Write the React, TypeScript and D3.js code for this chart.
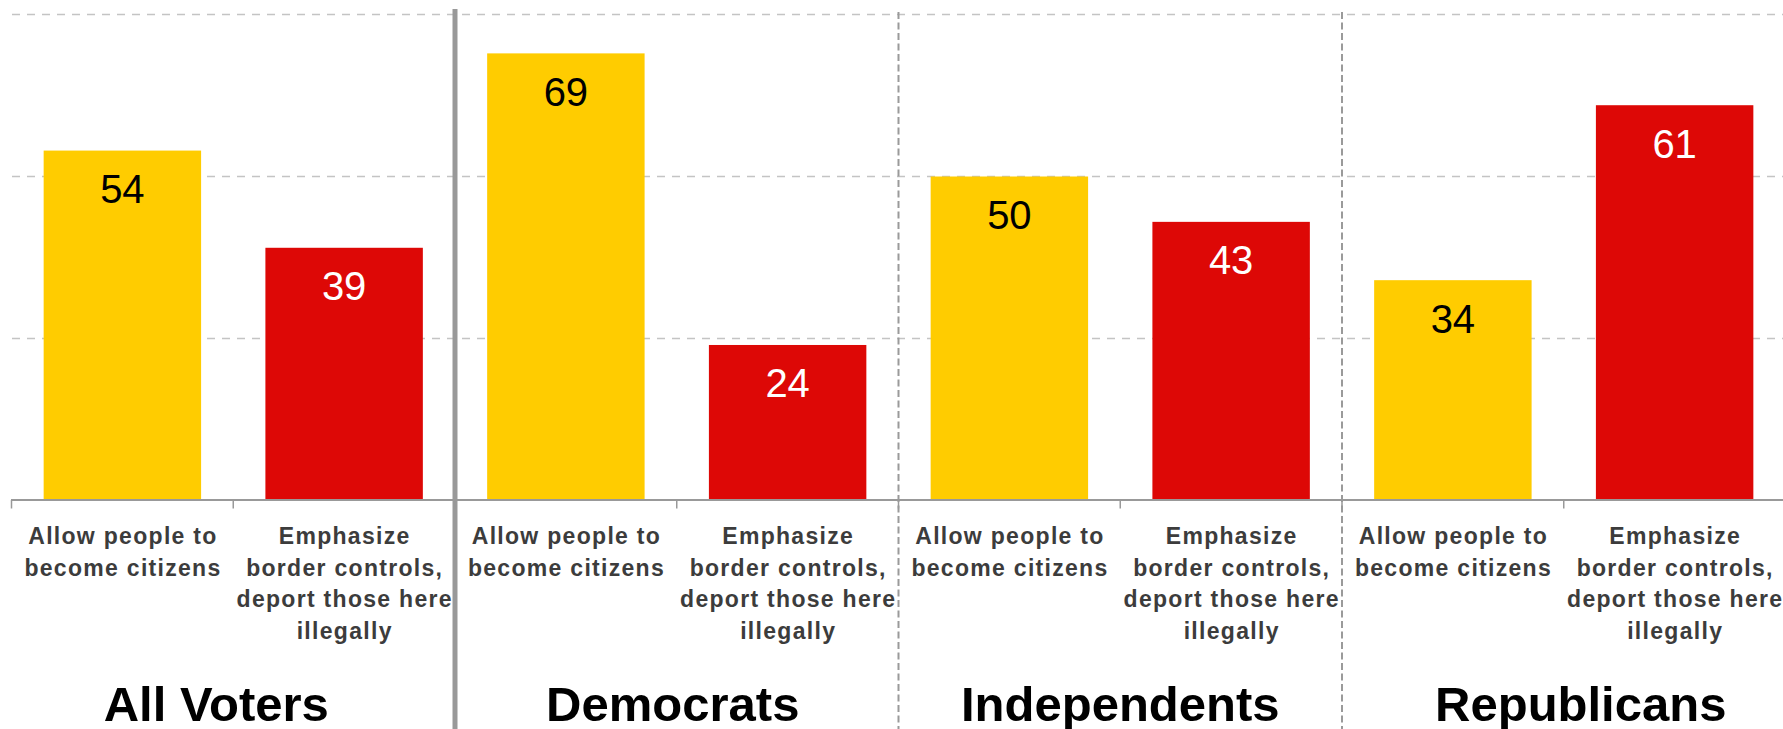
import React from "react";
import * as d3 from "d3";

const groups = ["All Voters", "Democrats", "Independents", "Republicans"];
const optionKeys = ["allow", "emphasize"];
const optionLabelLines = [
  ["Allow people to", "become citizens"],
  ["Emphasize", "border controls,", "deport those here", "illegally"],
];
const allowValues = [54, 69, 50, 34];
const emphasizeValues = [39, 24, 43, 61];
const yTicks = [25, 50, 75];

const W = 1783;
const H = 729;
const YELLOW = "#FFCC00";
const RED = "#DD0806";
const FONT = "'Liberation Sans', Arial, Helvetica, sans-serif";

// layout nudges for the group titles (as placed in the reference)
const titleShift = [-17, -4, 0, 17];

type Bar = { key: string; group: number; option: number; value: number };

const bars: Bar[] = [];
groups.forEach((g, gi) => {
  bars.push({ key: `${gi}-${optionKeys[0]}`, group: gi, option: 0, value: allowValues[gi] });
  bars.push({ key: `${gi}-${optionKeys[1]}`, group: gi, option: 1, value: emphasizeValues[gi] });
});

export default function App() {
  const x = d3
    .scaleBand<string>()
    .domain(bars.map((b) => b.key))
    .range([11.5, 11.5 + 8 * 221.75])
    .paddingInner(0.29)
    .paddingOuter(0.145);
  const y = d3.scaleLinear().domain([0, 75]).range([500.5, 14.5]);
  const step = x.step();
  const x0 = x.range()[0];
  const baseY = y(0);

  const boundaries = d3.range(0, bars.length + 1).map((i) => x0 + i * step);

  return (
    <svg
      width={W}
      height={H}
      style={{ position: "absolute", left: 0, top: 0, display: "block", background: "#fff" }}
      fontFamily={FONT}
    >
      {/* horizontal gridlines */}
      {yTicks.map((t) => (
        <line
          key={t}
          x1={12}
          x2={W}
          y1={y(t)}
          y2={y(t)}
          stroke="#C4C4C4"
          strokeWidth={1.3}
          strokeDasharray="8 7"
        />
      ))}

      {/* bars */}
      {bars.map((b) => (
        <rect
          key={b.key}
          x={x(b.key)}
          y={y(b.value)}
          width={x.bandwidth()}
          height={baseY - y(b.value)}
          fill={b.option === 0 ? YELLOW : RED}
        />
      ))}

      {/* value labels */}
      {bars.map((b) => (
        <text
          key={b.key + "v"}
          x={(x(b.key) as number) + x.bandwidth() / 2}
          y={y(b.value) + 52.5}
          textAnchor="middle"
          fontSize={40}
          fill={b.option === 0 ? "#000" : "#fff"}
        >
          {b.value}
        </text>
      ))}

      {/* group separators */}
      <line x1={boundaries[2]} x2={boundaries[2]} y1={9} y2={H} stroke="#999" strokeWidth={5} />
      {[4, 6].map((i) => (
        <line
          key={i}
          x1={boundaries[i]}
          x2={boundaries[i]}
          y1={12}
          y2={H}
          stroke="#9A9A9A"
          strokeWidth={2}
          strokeDasharray="7 3.5"
        />
      ))}

      {/* category axis */}
      <line x1={x0 - 0.5} x2={W} y1={baseY - 0.5} y2={baseY - 0.5} stroke="#999" strokeWidth={2} />
      {boundaries.map((bx, i) => (
        <line key={"t" + i} x1={bx} x2={bx} y1={baseY - 0.5} y2={baseY + 8} stroke="#999" strokeWidth={1.5} />
      ))}

      {/* category labels */}
      {bars.map((b) => (
        <text
          key={b.key + "l"}
          x={(x(b.key) as number) + x.bandwidth() / 2}
          y={544}
          textAnchor="middle"
          fontSize={23}
          fontWeight="bold"
          letterSpacing={1.3}
          fill="#3C3C3C"
        >
          {optionLabelLines[b.option].map((line, li) => (
            <tspan key={li} x={(x(b.key) as number) + x.bandwidth() / 2 + 0.6} y={544 + li * 31.7}>
              {line}
            </tspan>
          ))}
        </text>
      ))}

      {/* group titles */}
      {groups.map((g, gi) => (
        <text
          key={g}
          x={x0 + (gi * 2 + 1) * step + titleShift[gi]}
          y={721}
          textAnchor="middle"
          fontSize={49}
          fontWeight="bold"
          fill="#000"
        >
          {g}
        </text>
      ))}
    </svg>
  );
}
